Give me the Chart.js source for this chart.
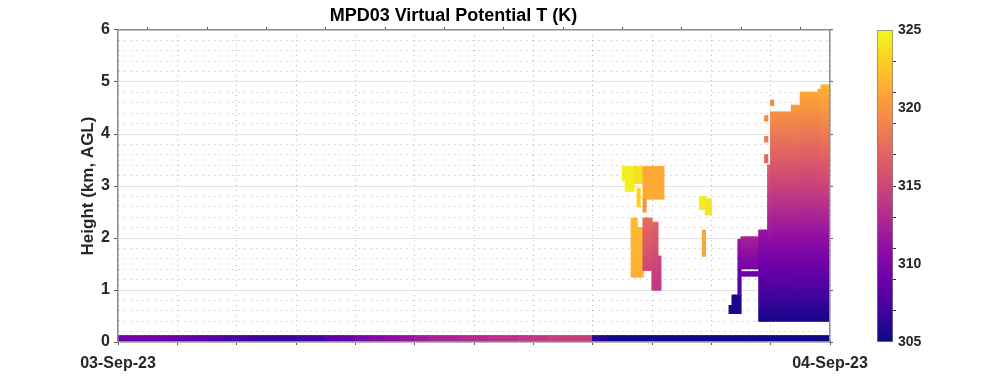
<!DOCTYPE html>
<html>
<head>
<meta charset="utf-8">
<script src="https://cdn.jsdelivr.net/npm/chart.js@4.4.1/dist/chart.umd.min.js"></script>
<style>
  html, body { margin: 0; background: #fff; }
  #wrap { position: relative; width: 1000px; height: 385px; }
  #wrap canvas { position: absolute; left: 0; top: 0; }
</style>
</head>
<body>
<div id="wrap">
  <canvas id="main" width="1000" height="385"></canvas>
  <canvas id="cbar" width="1000" height="385"></canvas>
</div>
<script>
// ===== data =====
const chartTitle = 'MPD03 Virtual Potential T (K)';
const yTitle = 'Height (km, AGL)';
const dayLabels = ['03-Sep-23', '04-Sep-23'];   // at hour 0 and hour 24
const cbarTicks = [305, 310, 315, 320, 325];

// surface layer (0 - 0.12 km), one value per half hour from 00:00
const surfTop = 0.12;
const surfTheta = [
  309.5, 309.5, 309.3, 309.0, 308.8, 308.5, 308.0, 307.5,
  307.0, 306.8, 306.5, 306.5, 307.0, 307.5, 308.5, 309.0,
  310.0, 310.5, 311.0, 311.5, 312.0, 312.5, 312.5, 313.0,
  313.0, 313.5, 313.5, 314.0, 314.0, 314.5, 314.5, 314.5,
  306.0, 305.3, 305.3, 305.3, 305.3, 305.3, 305.3, 305.3,
  305.3, 305.3, 305.3, 305.3, 305.3, 305.3, 305.3, 305.3
];

// retrievals aloft: time range (h), height range (km), theta at base / top (K)
const segStart = [17.0, 17.1, 17.4, 17.5, 17.7, 17.7, 17.3, 17.5, 17.7, 18.0, 18.2,
                  19.6, 19.8, 19.7,
                  20.6, 20.7, 20.9, 21.0, 21.0,
                  21.6, 21.9, 21.8, 21.8, 21.8, 22.0, 22.0, 22.7, 23.0, 23.6, 23.7];
const segEnd   = [17.1, 17.4, 17.7, 17.6, 18.4, 17.8, 17.5, 17.7, 18.0, 18.2, 18.3,
                  19.8, 20.0, 19.8,
                  20.7, 21.0, 21.0, 21.6, 21.6,
                  21.9, 22.0, 21.9, 21.9, 21.9, 22.1, 22.7, 23.0, 23.6, 23.7, 24.0];
const segBase  = [3.10, 2.90, 3.05, 2.60, 2.75, 2.50, 1.25, 1.25, 1.38, 1.00, 1.00,
                  2.55, 2.45, 1.65,
                  0.55, 0.55, 0.90, 1.27, 1.41,
                  0.40, 0.40, 3.45, 3.85, 4.25, 4.55, 0.40, 0.40, 0.40, 0.40, 0.40];
const segTop   = [3.37, 3.37, 3.37, 2.95, 3.37, 2.75, 2.38, 2.20, 2.38, 2.30, 1.65,
                  2.80, 2.75, 2.15,
                  0.70, 0.90, 1.97, 1.35, 2.02,
                  2.15, 3.40, 3.60, 3.95, 4.35, 4.65, 4.42, 4.55, 4.80, 4.86, 4.94];
const segThetaBase = [324.5, 324.5, 323.8, 323.0, 321.3, 320.0, 321.5, 321.5, 315.0, 313.8, 313.8,
                      324.5, 324.0, 321.0,
                      305.5, 305.5, 307.5, 309.0, 309.5,
                      305.3, 305.3, 317.0, 318.5, 319.5, 319.5, 305.3, 305.3, 305.3, 305.3, 305.3];
const segThetaTop  = [324.5, 324.5, 323.8, 323.0, 321.0, 320.0, 322.0, 322.0, 317.5, 317.0, 315.0,
                      324.5, 324.0, 321.0,
                      305.5, 305.5, 311.5, 309.0, 312.5,
                      311.5, 316.5, 317.0, 318.5, 319.5, 319.5, 319.8, 320.3, 321.0, 321.3, 321.8];

// ===== colour map (plasma) =====
const plasmaStops = ['#0d0887', '#41049d', '#6a00a8', '#8f0da4', '#b12a90', '#cc4778',
                     '#e16462', '#f2844b', '#fca636', '#fcce25', '#f0f921'];
const cMin = 305, cMax = 325;

function hexRgb(h) {
  return [parseInt(h.slice(1, 3), 16), parseInt(h.slice(3, 5), 16), parseInt(h.slice(5, 7), 16)];
}
function plasma(v) {
  let t = (v - cMin) / (cMax - cMin);
  t = Math.max(0, Math.min(1, t)) * (plasmaStops.length - 1);
  const i = Math.min(Math.floor(t), plasmaStops.length - 2);
  const f = t - i;
  const a = hexRgb(plasmaStops[i]), b = hexRgb(plasmaStops[i + 1]);
  const c = a.map((x, k) => Math.round(x + (b[k] - x) * f));
  return `rgb(${c[0]},${c[1]},${c[2]})`;
}

// ===== rectangles -> 0.1 h wide floating bars =====
const BIN = 0.1;
function toBars(start, end, base, top, vb, vt) {
  const out = [];
  const n = Math.round((end - start) / BIN);
  for (let k = 0; k < n; k++) {
    const x = Math.round((start + (k + 0.5) * BIN) * 100) / 100;
    out.push({ x: x, y: [base, top], vb: vb, vt: vt });
  }
  return out;
}

const surfBars = [];
surfTheta.forEach((v, i) => surfBars.push(...toBars(i * 0.5, i * 0.5 + 0.5, 0, surfTop, v, v)));

const aloftBars = [];
for (let i = 0; i < segStart.length; i++) {
  aloftBars.push(...toBars(segStart[i], segEnd[i], segBase[i], segTop[i], segThetaBase[i], segThetaTop[i]));
}

// vertical gradient from theta at bar base to theta at bar top, following the colour map
function fillFor(ctx) {
  const d = ctx.raw;
  if (!d || d.vb === undefined) return 'rgba(0,0,0,0)';
  if (d.vb === d.vt) return plasma(d.vb);
  const ys = ctx.chart.scales.y;
  const y0 = ys.getPixelForValue(d.y[0]), y1 = ys.getPixelForValue(d.y[1]);
  if (!isFinite(y0) || !isFinite(y1)) return plasma((d.vb + d.vt) / 2);
  const g = ctx.chart.ctx.createLinearGradient(0, y0, 0, y1);
  for (let s = 0; s <= 20; s++) {
    g.addColorStop(s / 20, plasma(d.vb + (d.vt - d.vb) * s / 20));
  }
  return g;
}

// ===== style =====
const FONT = "'Liberation Sans', Arial, Helvetica, sans-serif";
const TXT = '#262626';
const AXIS = '#8c8c8c';
const DOT = 'rgba(0,0,0,0.28)';
const isInt = v => Math.abs(v - Math.round(v)) < 1e-6;

Chart.defaults.font.family = FONT;

const barStyle = {
  backgroundColor: fillFor,
  borderWidth: 0,
  inflateAmount: 0.6,
  grouped: false,
  barPercentage: 1,
  categoryPercentage: 1
};

new Chart(document.getElementById('main'), {
  type: 'bar',
  data: {
    datasets: [
      Object.assign({ data: surfBars }, barStyle),
      Object.assign({ data: aloftBars }, barStyle)
    ]
  },
  options: {
    responsive: false,
    animation: false,
    events: [],
    layout: { padding: { left: 74, right: 167, top: 0.4, bottom: 0 } },
    plugins: {
      legend: { display: false },
      tooltip: { enabled: false },
      title: {
        display: true, text: chartTitle, color: '#000',
        font: { size: 18, weight: 'bold' }, padding: { top: 5, bottom: 0 }
      }
    },
    scales: {
      x: {
        type: 'linear', min: 0, max: 24, offset: false,
        ticks: {
          stepSize: 2, maxTicksLimit: 100, autoSkip: false, maxRotation: 0,
          padding: 9, color: TXT, font: { size: 16, weight: 'bold' },
          callback: v => (v === 0 ? dayLabels[0] : v === 24 ? dayLabels[1] : '')
        },
        grid: {
          offset: false, color: DOT, lineWidth: 1,
          tickLength: 3, tickColor: '#555'
        },
        border: { color: AXIS, width: 1.5, dash: [1, 4], z: 1 },
        afterFit: s => { s.height = 43; }
      },
      x2: {
        type: 'linear', position: 'top', min: 0, max: 24, offset: false,
        ticks: { display: false, stepSize: 2, maxTicksLimit: 100, autoSkip: false },
        grid: { drawOnChartArea: false, tickLength: 3, tickColor: '#555' },
        border: { color: AXIS, width: 1.5, z: 1 },
        afterFit: s => { s.height = 3; }
      },
      y: {
        min: 0, max: 6,
        ticks: {
          stepSize: 0.2, maxTicksLimit: 100, autoSkip: false,
          padding: 4, color: TXT, font: { size: 16, weight: 'bold' },
          callback: v => (isInt(v) ? String(Math.round(v)) : '')
        },
        grid: {
          color: c => (isInt(c.tick.value) ? '#e2e2e2' : DOT),
          lineWidth: 1, tickLength: 4,
          tickColor: c => (isInt(c.tick.value) ? '#555' : 'rgba(0,0,0,0)')
        },
        border: {
          color: AXIS, width: 1.5, z: 1,
          dash: c => (c.tick && isInt(c.tick.value) ? [] : [1, 5])
        },
        title: {
          display: true, text: yTitle, color: TXT,
          font: { size: 17, weight: 'bold' }, padding: { top: 4, bottom: 4 }
        },
        afterFit: s => { s.width = 44; }
      },
      y2: {
        position: 'right', min: 0, max: 6,
        ticks: { display: false, stepSize: 1, autoSkip: false },
        grid: { drawOnChartArea: false, tickLength: 3, tickColor: '#555' },
        border: { color: AXIS, width: 1.5, z: 1 },
        afterFit: s => { s.width = 3; }
      }
    }
  }
});

// ===== colour bar =====
function cbarFill(ctx) {
  const ys = ctx.chart.scales.y;
  const y0 = ys ? ys.getPixelForValue(cMin) : NaN, y1 = ys ? ys.getPixelForValue(cMax) : NaN;
  if (!isFinite(y0) || !isFinite(y1)) return plasma(315);
  const g = ctx.chart.ctx.createLinearGradient(0, y0, 0, y1);
  plasmaStops.forEach((c, i) => g.addColorStop(i / (plasmaStops.length - 1), c));
  return g;
}

new Chart(document.getElementById('cbar'), {
  type: 'bar',
  data: {
    labels: [''],
    datasets: [{
      data: [[cMin, cMax]],
      backgroundColor: cbarFill,
      borderColor: '#7f7f7f', borderWidth: 1, borderSkipped: false,
      barPercentage: 1, categoryPercentage: 1
    }]
  },
  options: {
    responsive: false,
    animation: false,
    events: [],
    layout: { padding: { left: 877, right: 57, top: 30, bottom: 43 } },
    plugins: { legend: { display: false }, tooltip: { enabled: false } },
    scales: {
      x: { display: false },
      y: {
        position: 'right', min: cMin, max: cMax,
        ticks: {
          stepSize: 1, maxTicksLimit: 100, autoSkip: false, padding: 2,
          color: TXT, font: { size: 14, weight: 'bold' },
          callback: v => (cbarTicks.includes(v) ? String(v) : '')
        },
        grid: {
          drawOnChartArea: false, tickLength: 3,
          tickColor: c => (c.tick.value % 2 === 1 && c.tick.value > cMin && c.tick.value < cMax ? '#333' : 'rgba(0,0,0,0)')
        },
        border: { display: false },
        afterFit: s => { s.width = 50; }
      }
    }
  }
});
</script>
</body>
</html>
